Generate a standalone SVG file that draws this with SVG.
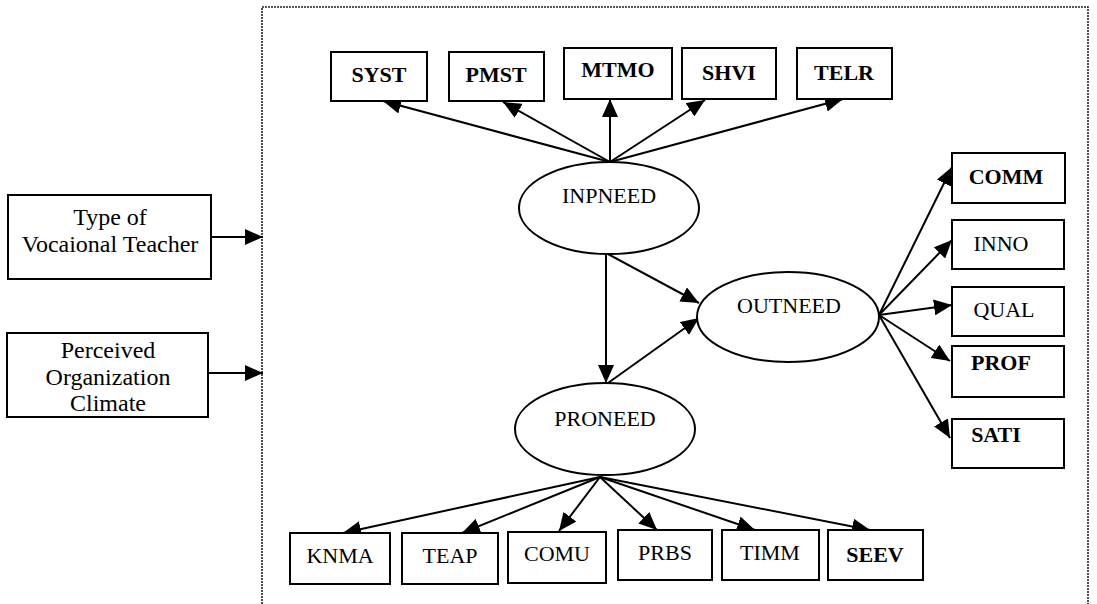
<svg xmlns="http://www.w3.org/2000/svg" width="1097" height="604" viewBox="0 0 1097 604">
  <style>
    .box { fill: #fff; stroke: #000; stroke-width: 2; }
    .ell { fill: #fff; stroke: #000; stroke-width: 2; }
    .lbl { font-family: "Liberation Serif", "Times New Roman", serif; font-size: 22px; fill: #000; text-anchor: middle; }
    .b { font-weight: bold; }
    .big { font-size: 24px; }
    .edge { stroke: #000; stroke-width: 2; fill: none; marker-end: url(#head); }
    .frame { fill: none; stroke: #222; stroke-width: 1.6; stroke-dasharray: 2 1; }
  </style>
  <defs>
    <marker id="head" viewBox="0 0 18 16" refX="18" refY="8" markerWidth="18" markerHeight="16" markerUnits="userSpaceOnUse" orient="auto">
      <path d="M0,0 L18,8 L0,16 Z" fill="#000"/>
    </marker>
  </defs>

  <rect width="1097" height="604" fill="#fff"/>

  <!-- dotted model boundary -->
  <path class="frame" d="M262,610 V7 H1088 V610"/>

  <!-- connectors -->
  <g id="connectors">
    <line class="edge" x1="211" y1="237" x2="263" y2="237"/>
    <line class="edge" x1="208" y1="373" x2="263" y2="373"/>

    <line class="edge" x1="610" y1="162" x2="383" y2="101"/>
    <line class="edge" x1="610" y1="162" x2="503" y2="102"/>
    <line class="edge" x1="610" y1="162" x2="610" y2="99"/>
    <line class="edge" x1="610" y1="162" x2="705" y2="100"/>
    <line class="edge" x1="610" y1="162" x2="843" y2="99"/>

    <line class="edge" x1="606" y1="254" x2="606" y2="383"/>
    <line class="edge" x1="608" y1="254" x2="699" y2="303"/>
    <line class="edge" x1="608" y1="383" x2="699" y2="318"/>

    <line class="edge" x1="879" y1="315" x2="952" y2="167"/>
    <line class="edge" x1="879" y1="315" x2="952" y2="240"/>
    <line class="edge" x1="879" y1="315" x2="952" y2="305"/>
    <line class="edge" x1="879" y1="315" x2="950" y2="361"/>
    <line class="edge" x1="879" y1="315" x2="950" y2="438"/>

    <line class="edge" x1="600" y1="477" x2="343" y2="533"/>
    <line class="edge" x1="600" y1="477" x2="462" y2="533"/>
    <line class="edge" x1="600" y1="477" x2="559" y2="531"/>
    <line class="edge" x1="600" y1="477" x2="657" y2="530"/>
    <line class="edge" x1="600" y1="477" x2="755" y2="530"/>
    <line class="edge" x1="600" y1="477" x2="870" y2="530"/>
  </g>

  <!-- exogenous inputs -->
  <g id="type-teacher">
    <rect class="box" x="8" y="195" width="203" height="84"/>
    <text class="lbl big" x="110" y="225">Type of</text>
    <text class="lbl big" x="110" y="252">Vocaional Teacher</text>
  </g>
  <g id="org-climate">
    <rect class="box" x="7" y="333" width="201" height="84"/>
    <text class="lbl big" x="108" y="358">Perceived</text>
    <text class="lbl big" x="108" y="385">Organization</text>
    <text class="lbl big" x="108" y="411">Climate</text>
  </g>

  <!-- latent constructs -->
  <g id="inpneed">
    <ellipse class="ell" cx="609" cy="208" rx="90" ry="46"/>
    <text class="lbl" x="609" y="203">INPNEED</text>
  </g>
  <g id="outneed">
    <ellipse class="ell" cx="788" cy="317" rx="91" ry="45"/>
    <text class="lbl" x="789" y="313">OUTNEED</text>
  </g>
  <g id="proneed">
    <ellipse class="ell" cx="605" cy="429" rx="90" ry="46"/>
    <text class="lbl" x="605" y="426">PRONEED</text>
  </g>

  <!-- input indicators -->
  <g id="syst">
    <rect class="box" x="331" y="52" width="96" height="49"/>
    <text class="lbl b" x="379" y="82">SYST</text>
  </g>
  <g id="pmst">
    <rect class="box" x="449" y="52" width="95" height="49"/>
    <text class="lbl b" x="496" y="82">PMST</text>
  </g>
  <g id="mtmo">
    <rect class="box" x="564" y="48" width="108" height="51"/>
    <text class="lbl b" x="618" y="77">MTMO</text>
  </g>
  <g id="shvi">
    <rect class="box" x="682" y="48" width="94" height="51"/>
    <text class="lbl b" x="729" y="80">SHVI</text>
  </g>
  <g id="telr">
    <rect class="box" x="797" y="48" width="95" height="51"/>
    <text class="lbl b" x="844" y="80">TELR</text>
  </g>

  <!-- output indicators -->
  <g id="comm">
    <rect class="box" x="952" y="153" width="113" height="50"/>
    <text class="lbl b" x="1006" y="184">COMM</text>
  </g>
  <g id="inno">
    <rect class="box" x="952" y="220" width="112" height="49"/>
    <text class="lbl" x="1001" y="251">INNO</text>
  </g>
  <g id="qual">
    <rect class="box" x="952" y="287" width="112" height="49"/>
    <text class="lbl" x="1004" y="317">QUAL</text>
  </g>
  <g id="prof">
    <rect class="box" x="952" y="346" width="112" height="51"/>
    <text class="lbl b" x="1001" y="370">PROF</text>
  </g>
  <g id="sati">
    <rect class="box" x="952" y="419" width="112" height="49"/>
    <text class="lbl b" x="996" y="442">SATI</text>
  </g>

  <!-- process indicators -->
  <g id="knma">
    <rect class="box" x="290" y="533" width="100" height="51"/>
    <text class="lbl" x="340" y="563">KNMA</text>
  </g>
  <g id="teap">
    <rect class="box" x="402" y="533" width="96" height="51"/>
    <text class="lbl" x="450" y="563">TEAP</text>
  </g>
  <g id="comu">
    <rect class="box" x="508" y="532" width="98" height="51"/>
    <text class="lbl" x="557" y="561">COMU</text>
  </g>
  <g id="prbs">
    <rect class="box" x="618" y="530" width="94" height="50"/>
    <text class="lbl" x="665" y="560">PRBS</text>
  </g>
  <g id="timm">
    <rect class="box" x="722" y="530" width="97" height="50"/>
    <text class="lbl" x="770" y="560">TIMM</text>
  </g>
  <g id="seev">
    <rect class="box" x="828" y="530" width="95" height="50"/>
    <text class="lbl b" x="875" y="562">SEEV</text>
  </g>
</svg>
